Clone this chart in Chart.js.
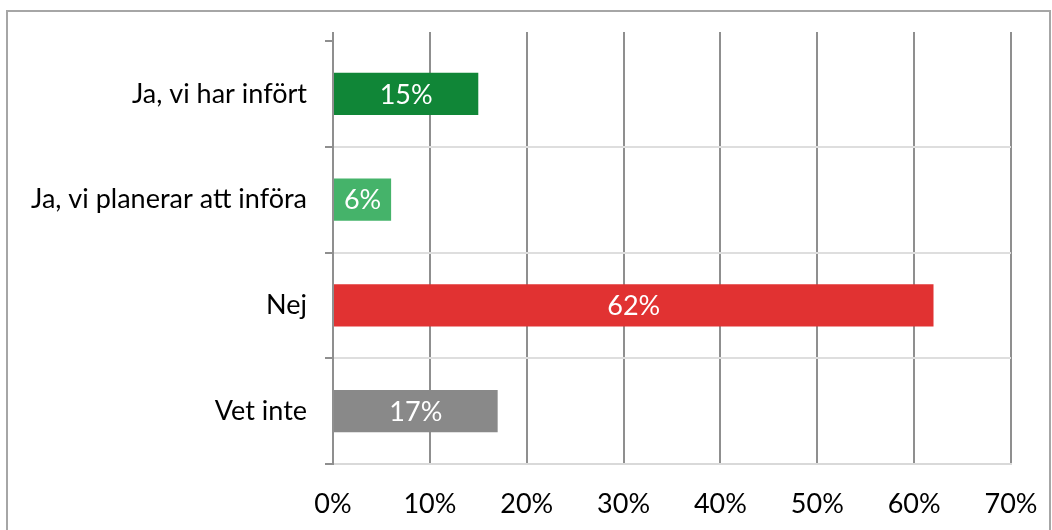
<!DOCTYPE html>
<html>
<head>
<meta charset="utf-8">
<script src="https://cdn.jsdelivr.net/npm/chart.js@4.4.0/dist/chart.umd.min.js"></script>
<style>
  html, body { margin: 0; padding: 0; background: #fff; overflow: hidden; }
  #wrap { position: relative; width: 1052px; height: 530px; }
  #frame { position: absolute; left: 6px; top: 10px; width: 1041px; height: 600px; border: 2px solid #a6a6a6; }
  canvas { position: absolute; left: 0; top: 0; }
</style>
</head>
<body>
<div id="wrap">
  <div id="frame"></div>
  <canvas id="chart" width="1052" height="530"></canvas>
</div>
<script>
// answers and share of respondents (%)
const categories = ["Ja, vi har infört", "Ja, vi planerar att införa", "Nej", "Vet inte"];
const values = [15, 6, 62, 17];
const barColors = ["#108637", "#45b36a", "#e13232", "#898989"];
const xTicks = [0, 10, 20, 30, 40, 50, 60, 70];

const FONT = "Lato, 'Open Sans', sans-serif";
const FSIZE = 27;

// white value text in the middle of each bar
const barLabels = {
    id: "barLabels",
    afterDatasetsDraw(chart) {
        const ctx = chart.ctx;
        const meta = chart.getDatasetMeta(0);
        ctx.save();
        ctx.fillStyle = "#ffffff";
        ctx.font = FSIZE + "px " + FONT;
        ctx.textAlign = "center";
        ctx.textBaseline = "middle";
        meta.data.forEach(function(bar, i){
            const cx = (bar.x + bar.base) / 2;
            ctx.fillText(values[i] + "%", cx, bar.y + 1);
        });
        ctx.restore();
    }
};

// excel draws the value grid a little above the plot area
const gridStub = {
    id: "gridStub",
    beforeDatasetsDraw(chart) {
        const ctx = chart.ctx;
        const xs = chart.scales.x;
        const top = chart.chartArea.top;
        ctx.save();
        ctx.strokeStyle = "#8f8f8f";
        ctx.lineWidth = 2;
        xTicks.forEach(function(v){
            const px = Math.round(xs.getPixelForValue(v));
            ctx.beginPath();
            ctx.moveTo(px, top - 9);
            ctx.lineTo(px, top);
            ctx.stroke();
        });
        ctx.restore();
    }
};

new Chart(document.getElementById("chart"), {
    type: "bar",
    data: {
        labels: categories,
        datasets: [{
            data: values,
            backgroundColor: barColors,
            borderWidth: 0,
            barPercentage: 0.8,
            categoryPercentage: 0.5
        }]
    },
    plugins: [barLabels, gridStub],
    options: {
        indexAxis: "y",
        responsive: false,
        animation: false,
        devicePixelRatio: 1,
        layout: { padding: { top: 41, right: 41, left: 0, bottom: 0 } },
        plugins: {
            legend: { display: false },
            tooltip: { enabled: false }
        },
        scales: {
            x: {
                min: 0,
                max: 70,
                afterFit: function(scale){
                    scale.height = 66;
                    // keep the plot edge fixed, labels may hang over
                    scale.paddingLeft = 0;
                    scale.paddingRight = 0;
                },
                afterBuildTicks: function(scale){
                    scale.ticks = xTicks.map(v => ({ value: v }));
                },
                ticks: {
                    color: "#000",
                    font: { family: FONT, size: FSIZE },
                    padding: 24,
                    callback: v => v + "%"
                },
                grid: {
                    color: "#8f8f8f",
                    lineWidth: 2,
                    drawTicks: false
                },
                border: { display: true, color: "#d9d9d9", width: 2 }
            },
            y: {
                afterFit: function(scale){
                    scale.width = 333;
                    scale.paddingTop = 0;
                    scale.paddingBottom = 0;
                },
                ticks: {
                    color: "#000",
                    font: { family: FONT, size: FSIZE },
                    padding: 18
                },
                grid: {
                    offset: true,
                    color: ctx => ctx.index === 0 ? "rgba(0,0,0,0)" : "#dedede",
                    lineWidth: 2,
                    tickColor: "#8f8f8f",
                    tickLength: 8,
                    tickWidth: 2
                },
                border: { display: true, color: "#8f8f8f", width: 2 }
            }
        }
    }
});
</script>
</body>
</html>
